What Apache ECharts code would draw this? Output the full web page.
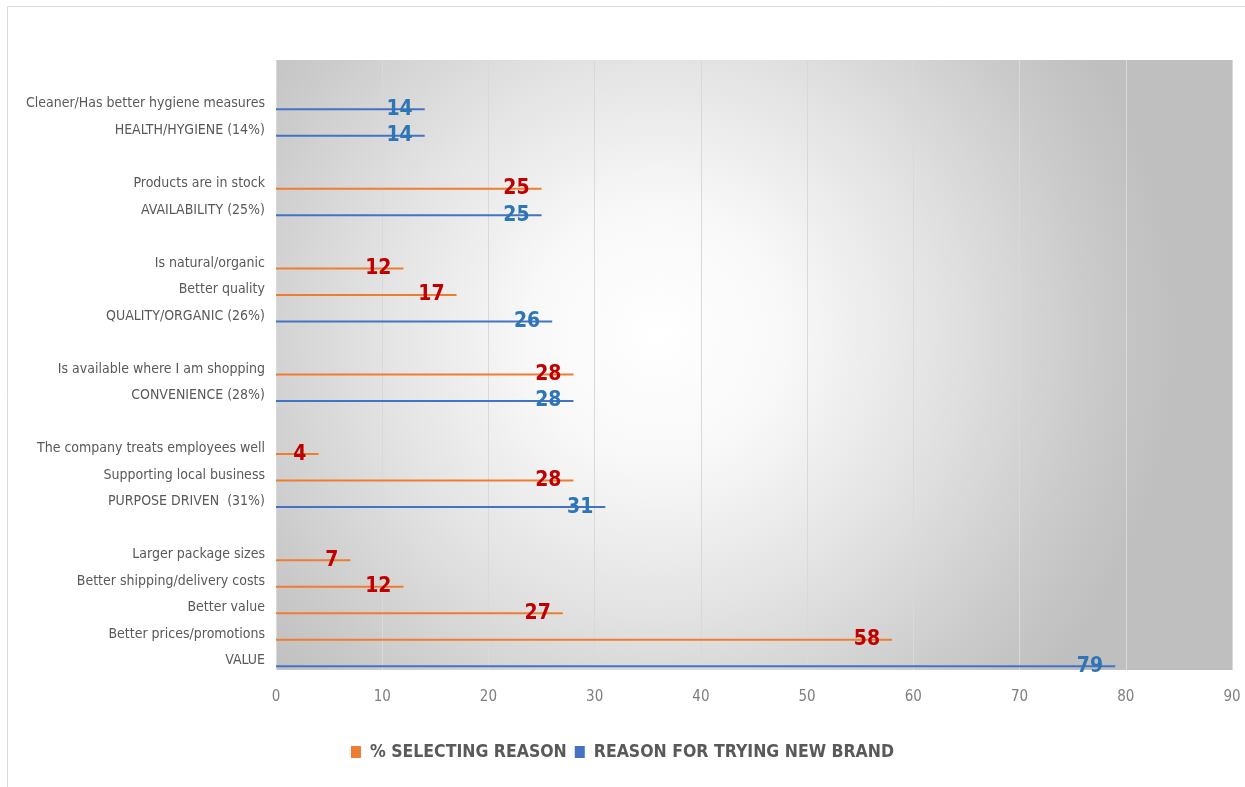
<!DOCTYPE html>
<html>
<head>
<meta charset="utf-8">
<script src="https://cdn.jsdelivr.net/npm/echarts@6.0.0/dist/echarts.min.js"></script>
<style>
  html, body { margin: 0; padding: 0; background: #fff; }
  #chart { width: 1245px; height: 787px; }
</style>
</head>
<body>
<div id="chart"></div>
<script>
// categories top -> bottom, blank ones are the spacer rows between groups
const categories = [
  "",
  "Cleaner/Has better hygiene measures",
  "HEALTH/HYGIENE (14%)",
  "",
  "Products are in stock",
  "AVAILABILITY (25%)",
  "",
  "Is natural/organic",
  "Better quality",
  "QUALITY/ORGANIC (26%)",
  "",
  "Is available where I am shopping",
  "CONVENIENCE (28%)",
  "",
  "The company treats employees well",
  "Supporting local business",
  "PURPOSE DRIVEN  (31%)",
  "",
  "Larger package sizes",
  "Better shipping/delivery costs",
  "Better value",
  "Better prices/promotions",
  "VALUE"
];

const selectingReason = [
  "-", "-", "-", "-", 25, "-", "-", 12, 17, "-", "-", 28,
  "-", "-", 4, 28, "-", "-", 7, 12, 27, 58, "-"
];

const tryingNewBrand = [
  "-", 14, 14, "-", "-", 25, "-", "-", "-", 26, "-", "-",
  28, "-", "-", "-", 31, "-", "-", "-", "-", "-", 79
];

const xTicks = { min: 0, max: 90, interval: 10 };

const narrow = "'Liberation Sans Narrow', 'DejaVu Sans Condensed', sans-serif";

const chart = echarts.init(document.getElementById("chart"));

const option = {
  backgroundColor: "#fff",
  animation: false,
  graphic: [
    {
      type: "rect",
      shape: { x: 7.5, y: 6.5, width: 1400, height: 900 },
      style: { fill: null, stroke: "#dadada", lineWidth: 1 },
      silent: true
    }
  ],
  legend: {
    data: ["% SELECTING REASON", "REASON FOR TRYING NEW BRAND"],
    bottom: 21,
    left: "center",
    icon: "rect",
    itemWidth: 10,
    itemHeight: 12,
    itemGap: 8,
    textStyle: {
      color: "#595959",
      fontSize: 17.5,
      fontWeight: "bold",
      fontFamily: narrow,
      padding: [0, 0, 0, 4]
    }
  },
  grid: {
    left: 276,
    right: 13,
    top: 60,
    bottom: 117,
    outerBoundsMode: "none",
    containLabel: false,
    show: true,
    borderWidth: 0,
    backgroundColor: new echarts.graphic.RadialGradient(0.4, 0.45, 0.85, [
      { offset: 0, color: "#ffffff" },
      { offset: 0.25, color: "#f8f8f8" },
      { offset: 0.55, color: "#e2e2e2" },
      { offset: 0.85, color: "#c9c9c9" },
      { offset: 1, color: "#bfbfbf" }
    ])
  },
  xAxis: {
    type: "value",
    min: xTicks.min,
    max: xTicks.max,
    interval: xTicks.interval,
    axisLine: { show: false },
    axisTick: { show: false },
    splitLine: { lineStyle: { color: "#d9d9d9", width: 1 } },
    axisLabel: {
      color: "#7f7f7f",
      fontSize: 15,
      margin: 20,
      fontFamily: narrow
    }
  },
  yAxis: {
    type: "category",
    data: categories,
    inverse: true,
    axisLine: { show: false },
    axisTick: { show: false },
    splitLine: { show: false },
    axisLabel: {
      color: "#595959",
      fontSize: 14,
      margin: 11,
      verticalAlign: "top",
      lineHeight: 8,
      fontFamily: narrow
    }
  },
  series: [
    {
      // empty column, pushes the real bars to the lower part of each row
      name: "pad",
      type: "bar",
      stack: "pad",
      barWidth: 19,
      silent: true,
      data: []
    },
    {
      name: "% SELECTING REASON",
      type: "bar",
      stack: "main",
      barWidth: 2,
      itemStyle: { color: "#ed7d31" },
      label: {
        show: true,
        position: "insideRight",
        distance: 12,
        color: "#c00000",
        fontSize: 21,
        fontWeight: "bold",
        fontFamily: narrow
      },
      data: selectingReason
    },
    {
      name: "REASON FOR TRYING NEW BRAND",
      type: "bar",
      stack: "main",
      barWidth: 2,
      barGap: 0,
      itemStyle: { color: "#4472c4" },
      label: {
        show: true,
        position: "insideRight",
        distance: 12,
        color: "#2e75b6",
        fontSize: 21,
        fontWeight: "bold",
        fontFamily: narrow
      },
      data: tryingNewBrand
    }
  ]
};

chart.setOption(option);
window.onresize = function() {
  chart.resize();
};
</script>
</body>
</html>
